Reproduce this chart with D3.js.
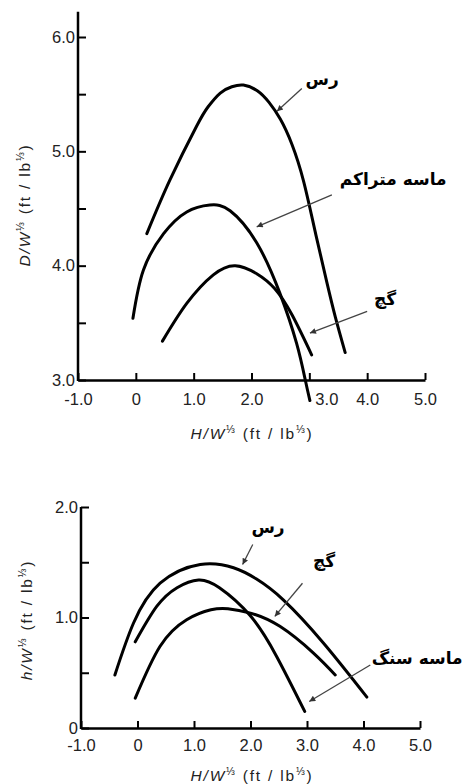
<!DOCTYPE html>
<html>
<head>
<meta charset="utf-8">
<script src="https://cdnjs.cloudflare.com/ajax/libs/d3/7.8.5/d3.min.js"></script>
<style>
body { margin: 0; background: #fff; }
</style>
</head>
<body>
<svg id="drawing_region"></svg>
<script>
// tick values shared by both charts
const x_ticks = [-1, 0, 1, 2, 3, 4, 5];
const top_y_ticks = [3, 3.5, 4, 4.5, 5, 5.5, 6];
const bottom_y_ticks = [0, 0.5, 1, 1.5, 2];

// upper chart: D/W^1/3
const top_clay = [[0.19,4.28],[0.59,4.75],[1.05,5.22],[1.25,5.39],[1.46,5.51],[1.66,5.565],[1.86,5.58],[2.1,5.53],[2.3,5.43],[2.5,5.28],[2.7,5.06],[2.9,4.74],[3.1,4.30],[3.3,3.86],[3.45,3.55],[3.62,3.24]];
const top_sand = [[-0.05,3.54],[0.13,3.96],[0.48,4.28],[0.88,4.47],[1.28,4.53],[1.63,4.48],[2.09,4.20],[2.49,3.76],[2.78,3.32],[2.93,3.0],[3.01,2.82]];
const top_gypsum = [[0.46,3.34],[0.88,3.67],[1.34,3.92],[1.72,4.0],[2.09,3.93],[2.4,3.80],[2.7,3.57],[3.04,3.22]];

// lower chart: h/W^1/3
const bottom_clay = [[-0.40,0.48],[-0.07,0.95],[0.40,1.31],[1.11,1.48],[1.7,1.45],[2.1,1.35],[2.58,1.16],[3.29,0.77],[4.06,0.28]];
const bottom_sandstone = [[-0.04,0.78],[0.34,1.10],[0.7,1.27],[1.08,1.34],[1.45,1.27],[1.99,1.02],[2.46,0.65],[2.96,0.15]];
const bottom_gypsum = [[-0.04,0.27],[0.40,0.74],[0.87,0.98],[1.3,1.07],[1.6,1.08],[2.0,1.04],[2.52,0.92],[3.11,0.68],[3.50,0.48]];

// curve names and where their call-outs sit, in data units: label, arrow tail, arrow tip
const top_names = ['رس', 'ماسه متراکم', 'گچ'];
const top_notes = [[[3.22,5.62],[2.87,5.55],[2.44,5.35]], [[4.45,4.75],[3.39,4.62],[2.09,4.34]], [[4.31,3.70],[4.0,3.60],[3.01,3.41]]];
const bottom_names = ['رس', 'گچ', 'ماسه سنگ'];
const bottom_notes = [[[2.31,1.81],[2.04,1.66],[1.86,1.48]], [[3.30,1.50],[2.92,1.31],[2.43,1.01]], [[4.95,0.62],[4.12,0.57],[3.04,0.24]]];

const svg = d3.select('#drawing_region')
    .attr('width', 470)
    .attr('height', 784);

svg.append('defs').append('marker')
    .attr('id', 'arrowhead')
    .attr('viewBox', '0 0 10 10')
    .attr('refX', 10).attr('refY', 5)
    .attr('markerUnits', 'userSpaceOnUse')
    .attr('markerWidth', 8).attr('markerHeight', 6)
    .attr('orient', 'auto')
    .append('path')
    .attr('d', 'M0,0 L10,5 L0,10 z')
    .attr('fill', '#333');

const fmt = d => d === 0 ? '0' : d.toFixed(1);

class CurveChart {

    constructor( config, curves, names, notes ) {
        this.config = config;
        this.curves = curves;
        this.names = names;
        this.notes = notes;
        this.init();
    }

    init() {
        let self = this;
        self.chart = svg.append('g');

        self.xscale = d3.scaleLinear()
            .domain( [-1, 5] )
            .range( [self.config.left, self.config.right] );

        self.yscale = d3.scaleLinear()
            .domain( self.config.ydomain )
            .range( [self.config.bottom, self.config.top] );
    }

    render() {
        let self = this;
        const c = self.config;

        const xaxis = d3.axisBottom( self.xscale )
            .tickValues( x_ticks )
            .tickSizeInner( -7 )
            .tickSizeOuter( 0 )
            .tickPadding( c.xpad )
            .tickFormat( fmt );

        const yaxis = d3.axisLeft( self.yscale )
            .tickValues( c.yticks )
            .tickSizeInner( -8 )
            .tickSizeOuter( 0 )
            .tickPadding( 3 )
            .tickFormat( d => d % 1 !== 0 ? '' : fmt(d) );

        const xg = self.chart.append('g')
            .attr('transform', `translate(0, ${self.yscale(c.ydomain[0])})`)
            .call( xaxis );
        const yg = self.chart.append('g')
            .attr('transform', `translate(${self.xscale(-1)}, 0)`)
            .call( yaxis );

        yg.select('.domain').remove();
        yg.append('line')
            .attr('y1', self.yscale(c.ydomain[0]) + 1)
            .attr('y2', self.yscale(c.ytop))
            .attr('stroke', '#000')
            .attr('stroke-width', 2.5);

        [xg, yg].forEach( g => {
            g.selectAll('.domain').attr('stroke-width', 2.5);
            g.selectAll('.tick line').attr('stroke-width', 2);
            g.selectAll('.tick text')
                .attr('font-family', 'Liberation Sans, Arial, sans-serif')
                .attr('font-size', 16.5)
                .attr('fill', '#222');
        });
        if ( c.shift3 ) {
            xg.selectAll('.tick text').filter( d => d === 3 ).attr('dx', c.shift3);
        }

        // axis titles
        const xt = self.chart.append('text')
            .attr('x', 252)
            .attr('y', c.xtitle_y)
            .attr('text-anchor', 'middle');
        self.title( xt, 'H' );

        const yt = self.chart.append('text')
            .attr('transform', `translate(${c.ytitle_x}, ${c.ytitle_y}) rotate(-90)`)
            .attr('text-anchor', 'middle');
        self.title( yt, c.ysymbol );

        const line = d3.line()
            .x( d => self.xscale(d[0]) )
            .y( d => self.yscale(d[1]) )
            .curve( d3.curveNatural );

        self.chart.selectAll('path.curve')
            .data( self.curves )
            .enter()
            .append('path')
            .attr('class', 'curve')
            .attr('d', line)
            .attr('fill', 'none')
            .attr('stroke', '#000')
            .attr('stroke-width', 3)
            .attr('stroke-linecap', 'round');

        self.chart.selectAll('line.arrow')
            .data( self.notes )
            .enter()
            .append('line')
            .attr('class', 'arrow')
            .attr('x1', d => self.xscale(d[1][0]) )
            .attr('y1', d => self.yscale(d[1][1]) )
            .attr('x2', d => self.xscale(d[2][0]) )
            .attr('y2', d => self.yscale(d[2][1]) )
            .attr('stroke', '#444')
            .attr('stroke-width', 1.3)
            .attr('marker-end', 'url(#arrowhead)');

        self.chart.selectAll('text.name')
            .data( self.notes )
            .enter()
            .append('text')
            .attr('class', 'name')
            .attr('x', d => self.xscale(d[0][0]) )
            .attr('y', d => self.yscale(d[0][1]) )
            .attr('text-anchor', 'middle')
            .attr('dominant-baseline', 'middle')
            .attr('font-family', 'DejaVu Sans, sans-serif')
            .attr('font-weight', 'bold')
            .attr('font-size', 17)
            .attr('fill', '#000')
            .text( (d, i) => self.names[i] );
    }

    title( t, sym ) {
        t.attr('font-family', 'Liberation Sans, Arial, sans-serif')
            .attr('font-size', 15.5)
            .attr('fill', '#222')
            .attr('letter-spacing', 1.8);
        t.append('tspan').attr('font-style', 'italic').text(sym + '/W');
        t.append('tspan').attr('font-size', 10.5).attr('dy', -6).text('⅓');
        t.append('tspan').attr('dy', 6).text(' (ft / lb');
        t.append('tspan').attr('font-size', 10.5).attr('dy', -6).text('⅓');
        t.append('tspan').attr('dy', 6).text(')');
    }
}

const top_chart = new CurveChart({
    left: 78, right: 425, top: 37, bottom: 380,
    ydomain: [3, 6], ytop: 6.22, yticks: top_y_ticks,
    xpad: 13, shift3: 17,
    xtitle_y: 439, ytitle_x: 30, ytitle_y: 205, ysymbol: 'D'
}, [top_clay, top_sand, top_gypsum], top_names, top_notes);
top_chart.render();

const bottom_chart = new CurveChart({
    left: 81, right: 420, top: 507, bottom: 728,
    ydomain: [0, 2], ytop: 2, yticks: bottom_y_ticks,
    xpad: 11, shift3: 0,
    xtitle_y: 781, ytitle_x: 32, ytitle_y: 620, ysymbol: 'h'
}, [bottom_clay, bottom_sandstone, bottom_gypsum], bottom_names, bottom_notes);
bottom_chart.render();
</script>
</body>
</html>
